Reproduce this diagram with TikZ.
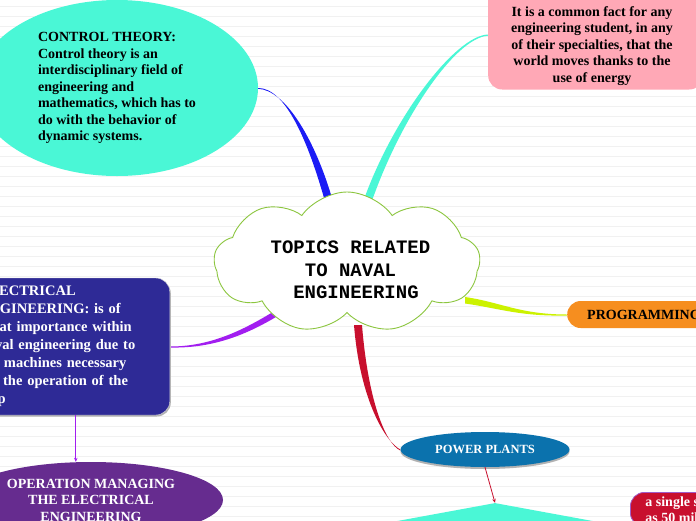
\documentclass[tikz,border=0pt]{standalone}
\usepackage{fontspec}
\setmainfont{Liberation Serif}
\setmonofont{Liberation Mono}
\usetikzlibrary{shapes.geometric,shapes.symbols,shadows,backgrounds,arrows.meta}
\definecolor{NVTeal}{HTML}{4AF7D6}
\definecolor{NVPink}{HTML}{FFA8B6}
\definecolor{NVBlue}{HTML}{1C1CF5}
\definecolor{NVIndigo}{HTML}{2E2A96}
\definecolor{NVViolet}{HTML}{A21EF0}
\definecolor{NVPurple}{HTML}{662C8F}
\definecolor{NVLime}{HTML}{CCF200}
\definecolor{NVOrange}{HTML}{F68E1F}
\definecolor{NVCrimson}{HTML}{C8102E}
\definecolor{NVOcean}{HTML}{0B72AD}
\definecolor{NVGreen}{HTML}{8CC63F}
\definecolor{NVPaper}{HTML}{F1F1F1}
\definecolor{NVLilac}{HTML}{A05CC8}
\tikzset{
  topicfont/.style={font=\bfseries\fontsize{14}{16.5}\selectfont},
  hubfont/.style={font=\ttfamily\bfseries\fontsize{19}{22.3}\selectfont},
  arrowlink/.style={line width=.8pt,-{Stealth[length=4pt,width=3.5pt]}},
}
\begin{document}
\begin{tikzpicture}[x=1pt,y=-1pt]
\path[use as bounding box] (0,0) rectangle (696,520);
\clip (0,0) rectangle (696,520);
\node[ellipse,fill=NVTeal,minimum width=282,minimum height=176,inner sep=0,topicfont,align=left] (ctrl) at (117,88) {CONTROL THEORY:\\Control theory is an\\interdisciplinary field of\\engineering and\\mathematics, which has to\\do with the behavior of\\dynamic systems.};
\node[rectangle,rounded corners=14,fill=NVPink,minimum width=215,minimum height=110,anchor=west] (energy) at (488,34.5) {};
\node[topicfont,align=center] (energytext) at (592,46) {It is a common fact for any\\engineering student, in any\\of their specialties, that the\\world moves thanks to the\\use of energy};
\node[cloud,cloud puffs=9,cloud puff arc=110,cloud ignores aspect,draw=NVGreen,fill=white,line width=.9pt,minimum width=266,minimum height=141,inner sep=0] (topic) at (347,262.5) {};
\node[hubfont,align=center] (topictext) at (350.5,270) {TOPICS RELATED\\TO NAVAL\\\hspace*{11pt}ENGINEERING};
\node[rectangle,rounded corners=14,fill=NVIndigo,draw=black!15,drop shadow={shadow xshift=1pt,shadow yshift=-1.5pt,fill=black!30,opacity=1},minimum width=200,minimum height=137,anchor=east,text width=180pt,inner xsep=10,align=left,text=white,font=\bfseries\fontsize{14.5}{18}\selectfont] (elec) at (170,346.5) {ELECTRICAL\\ENGINEERING: is of\\great importance within\\naval engineering due to\\the machines necessary\\for the operation of the\\ship};
\node[ellipse,fill=NVPurple,minimum width=264,minimum height=76,inner sep=0,topicfont,text=white,align=center] (oper) at (91,500) {OPERATION MANAGING\\THE ELECTRICAL\\ENGINEERING};
\node[rectangle,rounded corners=13.5,fill=NVOrange,minimum height=27,inner xsep=20,anchor=west,topicfont] (prog) at (567,314.5) {PROGRAMMING};
\node[ellipse,fill=NVOcean,drop shadow={shadow xshift=0pt,shadow yshift=-2pt,fill=black!30,opacity=1},minimum width=169,minimum height=35,inner sep=0,text=white,font=\bfseries\fontsize{12.5}{15}\selectfont] (power) at (485,449.5) {POWER PLANTS};
\node[diamond,fill=NVTeal,minimum width=435,minimum height=80,aspect=5.44,inner sep=0] (supply) at (495,543) {};
\node[rectangle,rounded corners=14,fill=NVCrimson,draw=NVLilac,line width=.8pt,anchor=north west,inner xsep=15,inner ysep=4,align=left,topicfont,text=white] (ship) at (630,492) {a single ship\\as 50 million};
\draw[NVViolet,arrowlink] ([xshift=6]elec.south) -- ([xshift=6]elec.south |- oper.north);
\draw[NVCrimson,arrowlink] (power.south) -- (supply.north);
\begin{scope}[on background layer]
\fill[white] (0,0) rectangle (696,520);
\foreach \y in {6,16,...,516}
  \draw[NVPaper,line width=1pt] (0,\y) -- (696,\y);
\fill[NVBlue] (ctrl.east) .. controls +(27,0) and +(-18,-65) .. ([shift={(-21,-57.5)}]topic.center) -- ([shift={(-13,-57.5)}]topic.center) .. controls +(-18,-65) and +(27,1) .. ([shift={(0,.8)}]ctrl.east) -- cycle;
\fill[NVTeal] (energy.west) .. controls +(-33,1) and +(29,-85) .. ([shift={(15,-57.5)}]topic.center) -- ([shift={(23.5,-57.5)}]topic.center) .. controls +(29,-85) and +(-33,2) .. ([shift={(0,1.2)}]energy.west) -- cycle;
\fill[NVViolet] (elec.east) .. controls +(45,0) and +(-35,22) .. ([shift={(-62,42)}]topic.center) -- ([shift={(-62,49)}]topic.center) .. controls +(-35,22) and +(45,1) .. ([shift={(0,1)}]elec.east) -- cycle;
\fill[NVLime] (prog.west) .. controls +(-47,0) and +(35,5) .. ([shift={(118,34.5)}]topic.center) -- ([shift={(118,41)}]topic.center) .. controls +(35,5) and +(-47,1) .. ([shift={(0,1)}]prog.west) -- cycle;
\fill[NVCrimson] (power.west) .. controls +(-15,-8) and +(6,75) .. ([shift={(7,62.5)}]topic.center) -- ([shift={(15,62.5)}]topic.center) .. controls +(6,75) and +(-15,-7) .. ([shift={(0,1)}]power.west) -- cycle;
\end{scope}
\end{tikzpicture}
\end{document}
